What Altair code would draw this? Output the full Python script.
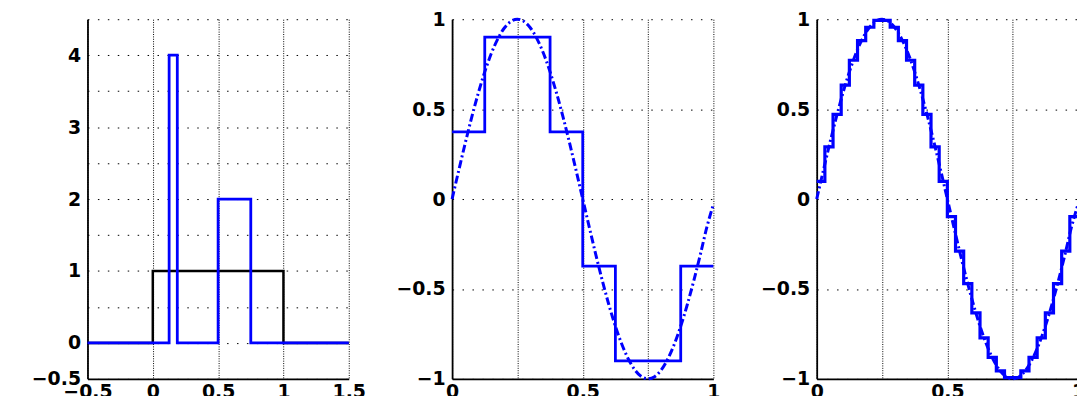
import altair as alt
import pandas as pd

# ---------------- data ----------------
# left panel: box function (black) and two scaled boxes (blue)
box_edges = [-0.5, 0.0, 1.0, 1.5]
box_vals = [0, 1, 0, 0]
haar_edges = [-0.5, 0.125, 0.1875, 0.5, 0.75, 1.5]
haar_vals = [0, 4, 0, 2, 0, 0]

# middle panel: 8-step approximation
step8_edges = [0, 0.125, 0.25, 0.375, 0.5, 0.625, 0.75, 0.875, 1.0]
step8_vals = [0.373, 0.900, 0.900, 0.373, -0.373, -0.900, -0.900, -0.373, -0.373]

# right panel: 32-step approximation
step32_edges = [i / 32 for i in range(33)]
step32_vals = [0.0978, 0.2898, 0.4706, 0.6334, 0.7718, 0.8805, 0.9554, 0.9936,
               0.9936, 0.9554, 0.8805, 0.7718, 0.6334, 0.4706, 0.2898, 0.0978,
               -0.0978, -0.2898, -0.4706, -0.6334, -0.7718, -0.8805, -0.9554, -0.9936,
               -0.9936, -0.9554, -0.8805, -0.7718, -0.6334, -0.4706, -0.2898, -0.0978,
               -0.0978]

# sampled curve (dash-dot)
curve_x = [i * 0.025 for i in range(41)]
curve_y = [0.0, 0.1564, 0.3090, 0.4540, 0.5878, 0.7071, 0.8090, 0.8910, 0.9511, 0.9877,
           1.0, 0.9877, 0.9511, 0.8910, 0.8090, 0.7071, 0.5878, 0.4540, 0.3090, 0.1564,
           0.0, -0.1564, -0.3090, -0.4540, -0.5878, -0.7071, -0.8090, -0.8910, -0.9511, -0.9877,
           -1.0, -0.9877, -0.9511, -0.8910, -0.8090, -0.7071, -0.5878, -0.4540, -0.3090, -0.1564,
           -0.03]

left_xticks = [-0.5, 0, 0.5, 1, 1.5]
left_yticks = [-0.5, 0, 0.5, 1, 1.5, 2, 2.5, 3, 3.5, 4, 4.5]
sine_xticks = [0, 0.25, 0.5, 0.75, 1]
sine_yticks = [-1, -0.5, 0, 0.5, 1]

BLUE = "#0000ff"
W, H = 263, 362
FONT = "DejaVu Sans"
FS = 19


def df(xs, ys):
    return pd.DataFrame({"x": xs, "y": ys})


def xaxis(values, expr):
    return alt.Axis(values=values, labelExpr=expr, grid=True, gridDash=[1, 1.4],
                    gridColor="black", gridWidth=1, ticks=False, domainColor="black",
                    domainWidth=1.8, labelFont=FONT, labelFontSize=FS, labelFontWeight="bold",
                    labelColor="black", labelPadding=4, title=None, labelFlush=False,
                    labelOverlap=False, labelAlign="center", labelBaseline="top")


def yaxis(values, expr):
    return alt.Axis(values=values, labelExpr=expr, grid=True, gridDash=[1.5, 8.5],
                    gridColor="black", gridWidth=1, ticks=False, domainColor="black",
                    domainWidth=1.8, labelFont=FONT, labelFontSize=FS, labelFontWeight="bold",
                    labelColor="black", labelPadding=7, title=None, labelFlush=False,
                    labelOverlap=False, labelAlign="right", labelBaseline="middle")


def step_line(data, color, width, xs, ys, xa, ya, dash=None, interp="step-after"):
    kw = dict(color=color, strokeWidth=width, interpolate=interp, clip=False)
    if dash is not None:
        kw["strokeDash"] = dash
    return alt.Chart(data).mark_line(**kw).encode(
        x=alt.X("x:Q", scale=xs, axis=xa),
        y=alt.Y("y:Q", scale=ys, axis=ya),
    )


# ---- left panel ----
lxs = alt.Scale(domain=[-0.5, 1.5], nice=False, zero=False)
lys = alt.Scale(domain=[-0.5, 4.5], nice=False, zero=False)
lxa = xaxis(left_xticks, "format(datum.value, '~g')")
lya = yaxis(left_yticks,
            "(datum.value == -0.5 || datum.value % 1 == 0) && datum.value < 4.5 ? format(datum.value, '~g') : ''")
left = alt.layer(
    step_line(df(box_edges, box_vals), "black", 2.5, lxs, lys, lxa, lya),
    step_line(df(haar_edges, haar_vals), BLUE, 2.8, lxs, lys, lxa, lya),
).properties(width=W, height=H)

# ---- middle / right panels ----
sxs = alt.Scale(domain=[0, 1], nice=False, zero=False)
sys_ = alt.Scale(domain=[-1, 1], nice=False, zero=False)
sxa = xaxis(sine_xticks, "datum.value % 0.5 == 0 ? format(datum.value, '~g') : ''")
sya = yaxis(sine_yticks, "format(datum.value, '~g')")

middle = alt.layer(
    step_line(df(curve_x, curve_y), BLUE, 3.0, sxs, sys_, sxa, sya, dash=[8, 3, 2, 3], interp="monotone"),
    step_line(df(step8_edges, step8_vals), BLUE, 2.8, sxs, sys_, sxa, sya),
).properties(width=W, height=H)

right = alt.layer(
    step_line(df(curve_x, curve_y), BLUE, 3.0, sxs, sys_, sxa, sya, dash=[8, 3, 2, 3], interp="monotone"),
    step_line(df(step32_edges, step32_vals), BLUE, 3.2, sxs, sys_, sxa, sya),
).properties(width=W, height=H)

chart = alt.hconcat(left, middle, right, spacing=104).properties(
    bounds="flush",
    padding={"left": 23, "top": 1, "right": -8, "bottom": 0},
).configure_view(stroke=None)

chart.save("out.html", embed_options={"renderer": "svg", "actions": False})
